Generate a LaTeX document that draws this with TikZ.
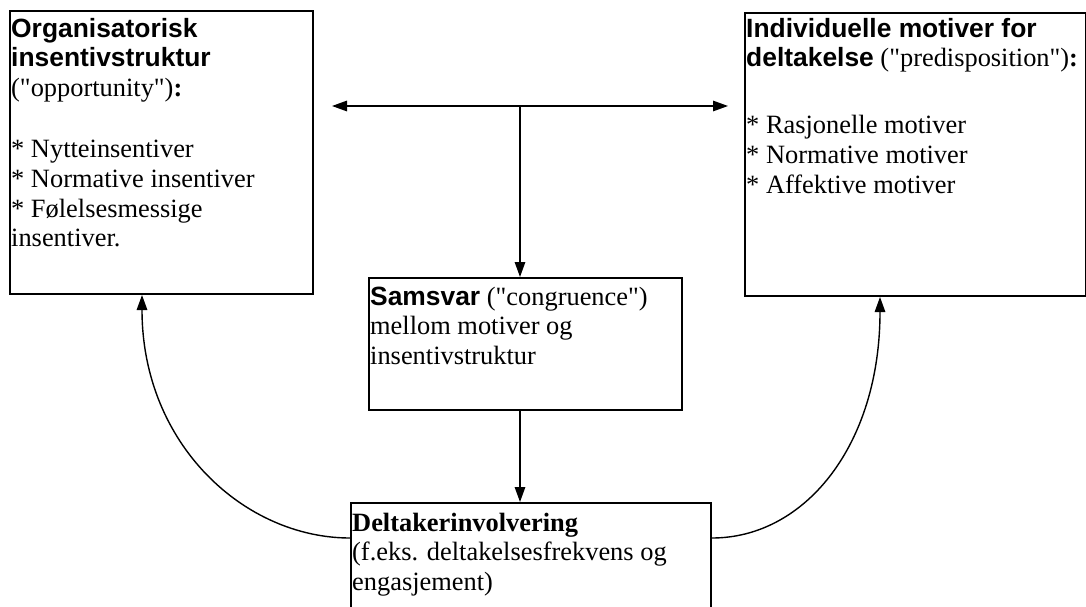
\documentclass[tikz,border=0pt]{standalone}
\usepackage{fontspec}
\setmainfont{Liberation Serif}[Ligatures=TeXOff]
\newfontfamily\hd{Liberation Sans}[Ligatures=TeXOff]
\usetikzlibrary{arrows.meta,calc}
\tikzset{
  box/.style={draw, line width=2pt, rectangle, inner sep=0pt, anchor=north west},
  txt/.style={anchor=north west, inner sep=0pt, align=left, font=\fontsize{26.4}{29.8}\selectfont},
  conn/.style={line width=1.4pt, -{Triangle[length=15pt,width=10.5pt]}},
  dconn/.style={line width=1.4pt, {Triangle[length=15pt,width=10.5pt]}-{Triangle[length=15pt,width=10.5pt]}}
}
\newcommand{\hb}[1]{{\hd\bfseries #1}}
\begin{document}
\begin{tikzpicture}[x=1pt,y=-1pt]
\useasboundingbox (0,0) rectangle (1086,607);
% boxes
\node[box, minimum width=303pt, minimum height=283pt] (org) at (9,10) {};
\node[box, minimum width=340.5pt, minimum height=283pt] (ind) at (744,12) {};
\node[box, minimum width=313pt, minimum height=132pt] (sam) at (368,277) {};
\node[box, minimum width=360pt, minimum height=106pt] (del) at (350,502) {};
% texts
\node[txt] (orgt) at (11,16) {\strut\hb{Organisatorisk}\\ \hb{insentivstruktur}\\ ("opportunity")\textbf{:}\\[31pt] * Nytteinsentiver\\ * Normative insentiver\\ * Følelsesmessige\\ insentiver.};
\node[txt] (indt) at (746,16) {\strut\hb{Individuelle motiver for}\\ \hb{deltakelse} ("predisposition")\textbf{:}\\[37pt] * Rasjonelle motiver\\ * Normative motiver\\ * Affektive motiver};
\node[txt] (samt) at (370,284) {\strut\hb{Samsvar} ("congruence")\\ mellom motiver og\\ insentivstruktur};
\node[txt] (delt) at (352,510) {\strut\textbf{Deltakerinvolvering}\\ (f.eks. deltakelsesfrekvens og\\ engasjement)};
% connectors
\coordinate (L) at (332,106);
\coordinate (R) at (728,106);
\coordinate (J) at (520,106);
\draw[dconn] (L) -- (R);
\draw[conn] (J) -- (J |- sam.north);
\draw[conn] (J |- sam.south) -- (J |- del.north);
\coordinate (dl) at ($(del.north west)+(0,36)$);
\coordinate (dr) at ($(del.north east)+(0,36)$);
\coordinate (ol) at ($(org.south west)+(133,0)$);
\coordinate (ir) at ($(ind.south west)+(136,0)$);
\draw[conn] (dl) .. controls (245,538) and (142,445) .. (ol);
\draw[conn] (dr) .. controls (805,538) and (880,445) .. (ir);
\end{tikzpicture}
\end{document}
